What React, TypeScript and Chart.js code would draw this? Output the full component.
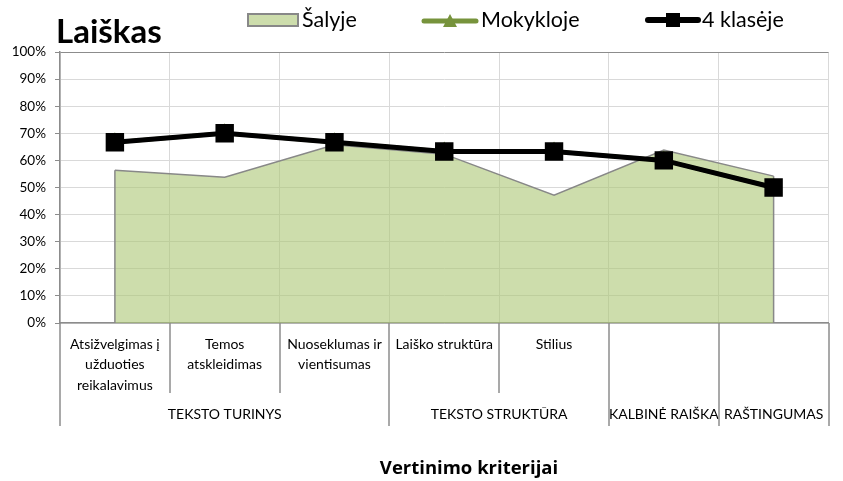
import React, { useEffect, useRef } from "react";
import { Chart, registerables } from "chart.js";
Chart.register(...registerables);

const titleText = "Laiškas";
const axisTitle = "Vertinimo kriterijai";
const categories: string[][] = [
  ["Atsižvelgimas į", "užduoties", "reikalavimus"],
  ["Temos", "atskleidimas"],
  ["Nuoseklumas ir", "vientisumas"],
  ["Laiško struktūra"],
  ["Stilius"],
  [""],
  [""],
];
const groups = ["TEKSTO TURINYS", "TEKSTO STRUKTŪRA", "KALBINĖ RAIŠKA", "RAŠTINGUMAS"];
const groupSpans = [3, 2, 1, 1];
const seriesNames = ["Šalyje", "Mokykloje", "4 klasėje"];
const salyje = [56.4, 53.8, 65.8, 62.3, 47.2, 63.8, 54.2];
const mokykloje = [66.7, 70.0, 66.7, 63.3, 63.3, 60.0, 50.0];
const klase4 = [66.7, 70.0, 66.7, 63.3, 63.3, 60.0, 50.0];

const FONT = "Lato, 'Open Sans', sans-serif";
const AXIS_GRAY = "#8c8c8c";
const GRID_GRAY = "#d9d9d9";
const AREA_FILL = "rgba(172,198,117,0.6)";
const AREA_LEGEND = "rgb(205,221,172)";
const GREEN = "#77933c";

const extrasPlugin = {
  id: "extras",
  afterDatasetDraw(chart: any, args: any) {
    if (args.index !== 0) return;
    const meta = chart.getDatasetMeta(0);
    const y0 = chart.scales.y.getPixelForValue(0);
    const ctx = chart.ctx;
    ctx.save();
    ctx.strokeStyle = "#888888";
    ctx.lineWidth = 1.5;
    const pts = [meta.data[0], meta.data[meta.data.length - 1]];
    pts.forEach((p: any) => {
      ctx.beginPath();
      ctx.moveTo(p.x, p.y);
      ctx.lineTo(p.x, y0);
      ctx.stroke();
    });
    ctx.restore();
  },
  afterDraw(chart: any) {
    const ctx = chart.ctx;
    const xs = chart.scales.x;
    const area = chart.chartArea;
    const half = (xs.getPixelForValue(1) - xs.getPixelForValue(0)) / 2;
    ctx.save();
    // title
    ctx.fillStyle = "#000";
    ctx.font = `bold 33px ${FONT}`;
    ctx.textAlign = "left";
    ctx.textBaseline = "alphabetic";
    ctx.fillText(titleText, 56, 43);

    // legend
    ctx.font = `21.5px ${FONT}`;
    ctx.textBaseline = "middle";
    const ly = 20;
    // Šalyje
    ctx.fillStyle = AREA_LEGEND;
    ctx.fillRect(248, 14, 50, 12);
    ctx.strokeStyle = "#888888";
    ctx.lineWidth = 2;
    ctx.strokeRect(248, 14, 50, 12);
    ctx.fillStyle = "#000";
    ctx.fillText(seriesNames[0], 302, ly);
    // Mokykloje
    ctx.strokeStyle = GREEN;
    ctx.lineWidth = 5;
    ctx.lineCap = "round";
    ctx.beginPath();
    ctx.moveTo(424, ly + 1);
    ctx.lineTo(476, ly + 1);
    ctx.stroke();
    ctx.fillStyle = GREEN;
    ctx.beginPath();
    ctx.moveTo(450, ly - 6);
    ctx.lineTo(457, ly + 7);
    ctx.lineTo(443, ly + 7);
    ctx.closePath();
    ctx.fill();
    ctx.fillStyle = "#000";
    ctx.fillText(seriesNames[1], 481, ly);
    // 4 klasėje
    ctx.strokeStyle = "#000";
    ctx.lineWidth = 6;
    ctx.beginPath();
    ctx.moveTo(648, ly);
    ctx.lineTo(698, ly);
    ctx.stroke();
    ctx.fillRect(666, ly - 7, 14, 14);
    ctx.fillText(seriesNames[2], 702, ly);

    // category labels
    ctx.font = `14px ${FONT}`;
    ctx.textAlign = "center";
    ctx.textBaseline = "middle";
    categories.forEach((lines, i) => {
      const cx = xs.getPixelForValue(i);
      lines.forEach((ln, j) => {
        ctx.fillText(ln, cx, 344 + j * 20.5);
      });
    });
    // group labels
    let start = 0;
    const boundaries = new Set<number>([0]);
    groupSpans.forEach((span, g) => {
      const left = xs.getPixelForValue(start) - half;
      const right = xs.getPixelForValue(start + span - 1) + half;
      ctx.fillText(groups[g], (left + right) / 2, 414);
      start += span;
      boundaries.add(start);
    });
    // separator lines
    ctx.strokeStyle = AXIS_GRAY;
    ctx.lineWidth = 1.5;
    ctx.lineCap = "butt";
    for (let k = 0; k <= categories.length; k++) {
      const bx = Math.round(
        k < categories.length ? xs.getPixelForValue(k) - half : xs.getPixelForValue(k - 1) + half
      );
      const bottom = boundaries.has(k) ? 426 : 393;
      ctx.beginPath();
      ctx.moveTo(bx, area.bottom);
      ctx.lineTo(bx, bottom);
      ctx.stroke();
    }
    // axis title
    ctx.font = `bold 18.5px 'Open Sans', ${FONT}`;
    ctx.textBaseline = "alphabetic";
    ctx.fillText(axisTitle, 469, 474);
    ctx.restore();
  },
};

export default function App() {
  const ref = useRef<HTMLCanvasElement | null>(null);
  useEffect(() => {
    if (!ref.current) return;
    const chart = new Chart(ref.current, {
      type: "line",
      data: {
        labels: categories.map((c) => c.join(" ")),
        datasets: [
          {
            label: seriesNames[0],
            data: salyje,
            fill: "origin",
            backgroundColor: AREA_FILL,
            borderColor: "#888888",
            borderWidth: 1.5,
            pointRadius: 0,
            tension: 0,
            order: 2,
          },
          {
            label: seriesNames[1],
            data: mokykloje,
            borderColor: GREEN,
            backgroundColor: GREEN,
            borderWidth: 4,
            pointStyle: "triangle",
            pointRadius: 6,
            fill: false,
            order: 1,
          },
          {
            label: seriesNames[2],
            data: klase4,
            borderColor: "#000",
            backgroundColor: "#000",
            borderWidth: 5,
            pointStyle: "rect",
            pointRadius: 9.5,
            fill: false,
            order: 0,
          },
        ],
      },
      options: {
        responsive: false,
        animation: false,
        layout: { padding: { left: 0, right: 14, top: 52, bottom: 0 } },
        plugins: {
          legend: { display: false },
          title: { display: false },
          tooltip: { enabled: false },
        },
        scales: {
          x: {
            offset: true,
            grid: {
              offset: true,
              drawTicks: false,
              color: (c: any) => (c.index === categories.length ? AXIS_GRAY : GRID_GRAY),
              lineWidth: (c: any) => (c.index === categories.length ? 1.5 : 1),
            },
            border: { color: AXIS_GRAY, width: 1.5 },
            ticks: { display: false },
            afterFit: (s: any) => {
              s.height = 158;
            },
          },
          y: {
            min: 0,
            max: 100,
            ticks: {
              stepSize: 10,
              callback: (v: any) => v + "%",
              color: "#000",
              font: { family: FONT, size: 13.5 },
              padding: 9,
            },
            grid: {
              color: (c: any) => (c.tick && c.tick.value === 100 ? AXIS_GRAY : GRID_GRAY),
              tickColor: AXIS_GRAY,
              tickLength: 5,
              lineWidth: 1,
            },
            border: { color: AXIS_GRAY, width: 1.5 },
            afterFit: (s: any) => {
              s.width = 60;
            },
          },
        },
      },
      plugins: [extrasPlugin],
    });
    return () => chart.destroy();
  }, []);
  return (
    <div style={{ position: "absolute", left: 0, top: 0, width: 843, height: 481, background: "#fff" }}>
      <canvas ref={ref} width={843} height={481} />
    </div>
  );
}
